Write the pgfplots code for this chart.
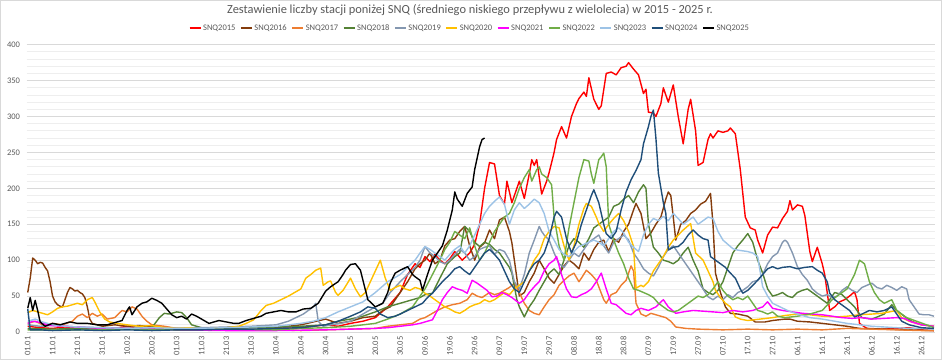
\documentclass[border=0pt]{standalone}
\usepackage{pgfplots}
\pgfplotsset{compat=1.18}
\usepackage{fontspec}
\setmainfont{Carlito}
\definecolor{c15}{HTML}{FF0000}
\definecolor{c16}{HTML}{843C0C}
\definecolor{c17}{HTML}{ED7D31}
\definecolor{c18}{HTML}{548235}
\definecolor{c19}{HTML}{8497B0}
\definecolor{c20}{HTML}{FFC000}
\definecolor{c21}{HTML}{FF00FF}
\definecolor{c22}{HTML}{70AD47}
\definecolor{c23}{HTML}{9DC3E6}
\definecolor{c24}{HTML}{1F4E79}
\definecolor{c25}{HTML}{000000}
\definecolor{txt}{HTML}{595959}
\definecolor{gmaj}{HTML}{D9D9D9}
\definecolor{gmin}{HTML}{EEEEEE}
\begin{document}
\begin{tikzpicture}
\useasboundingbox (0,0) rectangle (942pt,360pt);
\draw[gmaj, line width=1pt] (0.5pt,0.5pt) rectangle (941.5pt,359.5pt);
\node[font=\fontsize{12.4}{14}\selectfont, text=txt] at (470pt,349.5pt) {Zestawienie liczby stacji poniżej SNQ (średniego niskiego przepływu z wielolecia) w 2015 - 2025 r.};
\begin{axis}[
  at={(26.5pt,28pt)}, anchor=south west,
  scale only axis, width=908.7pt, height=287.3pt,
  xmin=-0.5, xmax=365.5, ymin=0, ymax=400,
  axis line style={draw=none},
  major tick length=0pt, minor tick length=0pt,
  ytick={0,50,...,400}, minor y tick num=4,
  ymajorgrids, yminorgrids,
  major grid style={gmaj, line width=0.8pt},
  minor grid style={gmin, line width=0.8pt},
  xtick={0,10,...,360},
  xticklabels={01.01,11.01,21.01,31.01,10.02,20.02,01.03,11.03,21.03,31.03,10.04,20.04,30.04,10.05,20.05,30.05,09.06,19.06,29.06,09.07,19.07,29.07,08.08,18.08,28.08,07.09,17.09,27.09,07.10,17.10,27.10,06.11,16.11,26.11,06.12,16.12,26.12},
  x tick label style={rotate=90, anchor=east, font=\fontsize{8.5}{9}\selectfont, text=txt, xshift=0pt},
  y tick label style={font=\fontsize{8.5}{9}\selectfont, text=txt},
  /pgf/number format/assume math mode=true,
  xticklabel shift=1pt, yticklabel shift=3pt,
  every axis plot/.append style={line width=1.4pt, mark=none, line join=round},
  legend columns=11,
  legend image code/.code={\draw[#1,line width=2pt] (0pt,0pt) -- (11pt,0pt);},
  legend style={at={(axis description cs:0.4875,1)}, anchor=center, yshift=16.7pt, draw=none, fill=none,
    font=\fontsize{8.5}{9}\selectfont, text=txt, inner xsep=0pt, nodes={inner xsep=1.5pt},
    /tikz/every even column/.append style={column sep=3pt}},
]
\addplot[c15] coordinates {(0,8)(5,6)(10,5)(15,7)(20,5)(25,4)(30,6)(35,5)(40,8)(45,5)(50,4)(55,6)(60,3)(70,3)(80,4)(90,3)(100,5)(110,6)(115,8)(120,10)(125,8)(130,12)(135,15)(140,20)(145,35)(150,55)(153,80)(156,95)(158,90)(160,105)(162,98)(164,108)(166,100)(168,95)(170,102)(172,112)(175,100)(178,110)(180,122)(182,150)(184,200)(186,236)(188,234)(190,190)(192,178)(193,210)(195,180)(197,200)(198,210)(200,186)(202,220)(203,240)(204,232)(205,240)(207,192)(209,210)(210,222)(212,250)(213,268)(215,286)(217,270)(219,300)(221,318)(222,325)(224,334)(225,328)(226,354)(228,324)(230,310)(231,315)(233,360)(235,362)(237,358)(239,368)(241,370)(242,375)(244,366)(246,358)(248,332)(249,338)(250,306)(252,305)(253,300)(255,318)(256,340)(258,320)(260,344)(262,300)(264,262)(266,310)(267,324)(269,280)(270,232)(272,236)(274,268)(275,276)(276,270)(278,280)(280,278)(282,280)(283,284)(285,276)(287,226)(289,160)(291,145)(293,142)(294,128)(296,110)(298,135)(300,146)(302,145)(304,158)(306,168)(307,183)(308,170)(310,177)(312,175)(313,162)(315,112)(316,98)(318,118)(320,95)(321,80)(323,30)(325,35)(327,42)(329,45)(331,50)(333,56)(334,45)(335,12)(338,5)(345,4)(350,5)(355,6)(360,3)(365,2)};
\addlegendentry{SNQ2015}
\addplot[c16] coordinates {(0,55)(1,75)(2,103)(3,100)(4,95)(5,97)(6,96)(7,90)(8,85)(9,70)(10,50)(11,42)(12,38)(13,36)(14,35)(15,45)(16,55)(17,62)(18,60)(19,57)(20,58)(21,55)(22,53)(23,48)(24,35)(25,18)(26,12)(28,10)(30,8)(35,10)(40,8)(45,9)(50,7)(55,6)(60,5)(70,6)(80,5)(90,7)(100,6)(105,8)(110,10)(115,14)(120,18)(125,12)(130,15)(135,20)(140,22)(143,30)(146,35)(150,55)(153,70)(156,88)(158,95)(160,100)(162,110)(164,95)(166,100)(168,120)(170,128)(172,130)(174,140)(176,147)(178,120)(180,100)(182,118)(184,124)(186,142)(188,130)(190,156)(192,160)(194,140)(195,124)(196,100)(198,50)(200,55)(202,70)(204,82)(206,100)(208,88)(210,75)(212,68)(214,80)(216,92)(218,100)(220,95)(222,88)(224,110)(226,100)(228,115)(230,125)(232,128)(234,112)(236,130)(238,125)(240,140)(242,150)(244,170)(245,179)(247,165)(249,130)(251,138)(253,150)(255,160)(257,185)(258,195)(259,190)(260,160)(261,128)(263,150)(265,155)(267,165)(269,170)(271,178)(273,182)(275,193)(276,150)(277,82)(279,55)(281,35)(283,26)(286,25)(290,22)(293,14)(297,14)(300,16)(305,18)(307,18)(310,15)(315,14)(320,12)(325,10)(330,8)(335,5)(345,4)(355,3)(365,2)};
\addlegendentry{SNQ2016}
\addplot[c17] coordinates {(0,12)(3,15)(6,10)(10,12)(14,10)(18,15)(20,22)(22,25)(24,20)(26,26)(28,22)(30,25)(32,18)(35,20)(38,30)(40,28)(42,35)(44,32)(46,22)(48,15)(50,10)(55,8)(60,5)(70,4)(80,3)(90,3)(100,3)(110,2)(120,3)(130,4)(140,5)(145,8)(150,10)(155,12)(158,18)(160,20)(163,26)(165,30)(168,35)(171,38)(174,40)(177,45)(179,54)(181,50)(183,48)(186,55)(188,52)(190,54)(192,58)(194,62)(196,68)(198,55)(200,40)(202,30)(204,26)(206,24)(208,35)(210,45)(212,52)(214,65)(216,72)(218,78)(220,82)(222,70)(223,75)(225,86)(227,80)(229,72)(230,63)(232,45)(233,40)(235,52)(237,55)(239,65)(241,72)(243,92)(244,85)(245,40)(247,25)(249,22)(251,26)(253,24)(255,22)(257,20)(259,15)(261,7)(265,5)(270,4)(280,3)(290,4)(300,3)(310,4)(320,3)(330,5)(340,4)(350,3)(360,2)(365,2)};
\addlegendentry{SNQ2017}
\addplot[c18] coordinates {(0,5)(10,4)(20,5)(30,6)(40,5)(50,6)(53,20)(55,26)(57,25)(60,28)(62,27)(64,20)(66,10)(70,6)(80,5)(90,6)(100,7)(110,8)(120,10)(125,15)(130,18)(135,22)(140,28)(145,35)(150,40)(155,45)(158,48)(160,52)(163,54)(166,75)(169,95)(172,105)(174,110)(176,147)(178,140)(180,125)(182,119)(184,125)(186,122)(188,115)(190,110)(192,100)(194,90)(195,82)(197,45)(198,35)(200,21)(202,35)(204,45)(206,58)(208,70)(210,82)(212,88)(214,80)(216,100)(218,120)(220,130)(222,125)(224,118)(226,130)(228,145)(230,150)(232,155)(234,160)(236,175)(238,178)(240,185)(242,190)(244,180)(246,195)(248,205)(249,200)(250,150)(252,118)(254,110)(256,100)(258,98)(260,95)(262,100)(264,110)(266,118)(268,100)(270,85)(272,60)(274,55)(276,52)(278,58)(280,70)(282,90)(284,110)(286,120)(288,128)(290,137)(292,125)(294,100)(296,82)(298,60)(300,50)(302,52)(304,55)(306,50)(308,48)(310,55)(312,58)(314,60)(316,55)(318,50)(320,45)(322,40)(325,55)(328,52)(330,45)(333,35)(336,20)(340,18)(345,25)(348,38)(350,30)(353,22)(356,15)(360,10)(365,8)};
\addlegendentry{SNQ2018}
\addplot[c19] coordinates {(0,10)(5,8)(10,9)(20,7)(30,6)(40,5)(50,6)(60,5)(70,6)(80,7)(90,8)(100,10)(105,15)(108,20)(111,25)(113,30)(115,35)(116,40)(117,15)(119,8)(122,10)(126,12)(130,15)(135,25)(140,35)(143,40)(146,55)(150,70)(153,80)(156,90)(158,100)(160,119)(162,110)(164,105)(166,98)(168,95)(170,100)(172,108)(174,115)(176,110)(178,100)(180,105)(182,115)(184,118)(186,120)(188,108)(190,115)(192,112)(194,100)(196,70)(198,60)(200,80)(202,110)(204,128)(206,147)(207,140)(208,135)(210,128)(212,110)(214,95)(216,90)(218,100)(220,110)(222,105)(224,115)(226,125)(228,130)(230,135)(232,120)(234,110)(236,125)(238,130)(240,135)(242,128)(244,110)(246,100)(248,88)(250,82)(252,78)(254,90)(256,105)(258,115)(260,120)(262,110)(264,100)(266,90)(268,80)(270,70)(272,60)(274,49)(276,45)(278,50)(280,45)(282,52)(284,48)(286,55)(288,58)(290,63)(292,70)(294,72)(296,80)(298,95)(300,105)(302,110)(304,125)(305,128)(306,125)(308,110)(310,91)(312,80)(314,72)(316,60)(318,54)(320,50)(322,52)(324,48)(326,50)(328,58)(330,63)(332,58)(334,55)(336,62)(338,65)(340,68)(342,62)(344,60)(346,65)(348,62)(350,58)(352,63)(354,60)(355,45)(357,35)(359,25)(361,24)(363,24)(365,22)};
\addlegendentry{SNQ2019}
\addplot[c20] coordinates {(0,27)(2,30)(4,28)(6,26)(8,24)(10,28)(12,33)(14,35)(16,36)(18,38)(20,40)(22,38)(24,45)(26,48)(27,42)(29,28)(31,18)(33,14)(36,12)(40,10)(45,8)(50,9)(55,6)(60,5)(65,6)(70,4)(75,5)(80,6)(85,8)(88,12)(91,17)(94,30)(96,37)(99,40)(102,45)(105,50)(107,54)(110,60)(112,75)(114,80)(116,86)(118,89)(119,65)(121,70)(122,71)(124,55)(125,51)(127,58)(130,75)(132,60)(134,49)(136,55)(138,70)(140,85)(142,100)(144,75)(146,58)(148,62)(150,65)(152,60)(154,58)(156,62)(158,60)(160,54)(162,50)(164,45)(166,40)(168,35)(170,32)(172,28)(174,26)(176,30)(178,35)(180,38)(182,40)(184,45)(186,42)(188,45)(190,50)(192,55)(194,52)(196,60)(198,65)(200,70)(202,85)(204,100)(206,110)(208,130)(210,140)(212,147)(214,145)(216,120)(218,100)(220,120)(222,150)(224,172)(225,179)(227,175)(229,160)(230,151)(232,140)(234,150)(236,158)(238,165)(240,155)(242,140)(244,119)(245,61)(247,65)(248,63)(250,70)(252,85)(254,95)(256,105)(258,118)(260,128)(262,135)(264,142)(266,148)(267,151)(269,110)(272,100)(274,85)(276,70)(277,58)(279,48)(281,40)(283,35)(285,21)(287,18)(290,16)(295,18)(300,20)(305,23)(310,25)(315,24)(320,22)(326,21)(330,22)(335,24)(340,25)(344,26)(347,28)(350,30)(352,20)(355,15)(360,10)(365,8)};
\addlegendentry{SNQ2020}
\addplot[c21] coordinates {(0,12)(2,15)(4,14)(6,12)(8,10)(10,9)(15,8)(20,7)(25,6)(30,5)(40,5)(50,4)(60,3)(80,2)(100,2)(120,3)(130,4)(140,5)(145,6)(150,8)(155,10)(158,12)(161,15)(163,17)(165,30)(167,45)(169,55)(171,63)(173,60)(175,58)(177,54)(179,72)(181,68)(183,63)(185,58)(187,49)(189,50)(191,55)(193,52)(195,48)(198,40)(200,45)(202,55)(204,63)(206,70)(208,85)(210,95)(212,100)(213,105)(215,80)(217,60)(219,49)(221,48)(223,52)(225,55)(227,60)(229,70)(231,82)(233,60)(235,40)(237,38)(239,32)(241,26)(243,24)(245,30)(247,33)(250,30)(253,35)(256,45)(258,35)(261,26)(264,28)(268,30)(272,29)(276,28)(280,27)(284,30)(288,28)(292,30)(296,35)(298,42)(300,33)(304,30)(308,28)(312,26)(316,25)(320,24)(324,22)(328,20)(332,19)(336,20)(340,18)(345,19)(350,20)(353,19)(356,14)(360,10)(365,8)};
\addlegendentry{SNQ2021}
\addplot[c22] coordinates {(0,3)(20,3)(40,4)(60,3)(80,4)(100,3)(110,5)(120,6)(130,8)(140,12)(145,18)(150,25)(155,35)(160,60)(163,80)(166,100)(168,115)(170,125)(172,140)(174,135)(176,130)(178,145)(180,120)(182,100)(184,110)(186,125)(188,140)(190,150)(192,160)(194,165)(196,180)(198,200)(200,215)(202,226)(203,210)(205,226)(206,230)(207,220)(209,215)(211,205)(212,160)(214,120)(216,100)(218,145)(220,180)(222,215)(224,240)(226,238)(227,220)(228,207)(230,240)(231,244)(232,249)(233,230)(234,150)(236,128)(238,110)(240,95)(242,75)(244,60)(246,58)(248,55)(250,52)(252,48)(254,40)(256,35)(258,30)(260,28)(262,30)(264,35)(266,40)(268,45)(270,50)(272,48)(274,52)(276,60)(278,70)(280,58)(282,50)(284,45)(286,48)(288,45)(290,50)(292,40)(294,30)(296,28)(298,25)(300,28)(302,22)(305,20)(310,22)(315,25)(320,30)(324,45)(326,50)(330,60)(333,80)(335,100)(337,95)(339,70)(341,55)(343,45)(345,40)(348,45)(350,30)(354,20)(358,15)(362,10)(365,6)};
\addlegendentry{SNQ2022}
\addplot[c23] coordinates {(0,15)(3,18)(6,14)(10,10)(15,8)(20,7)(30,6)(40,5)(50,6)(60,5)(70,5)(80,6)(90,7)(100,8)(110,12)(115,15)(120,20)(125,28)(130,35)(135,42)(140,55)(145,70)(150,80)(153,90)(156,100)(158,110)(160,119)(162,115)(164,110)(166,105)(168,100)(170,108)(172,115)(174,120)(176,110)(178,120)(180,135)(182,150)(184,165)(186,175)(188,182)(190,188)(192,178)(194,150)(196,170)(198,180)(200,172)(202,178)(204,185)(206,180)(208,165)(210,140)(212,128)(214,115)(216,108)(218,105)(220,112)(222,119)(224,122)(226,125)(228,128)(230,125)(232,120)(234,130)(236,140)(238,145)(240,138)(242,125)(244,118)(246,112)(248,135)(250,150)(252,158)(254,155)(256,161)(258,155)(260,165)(262,158)(264,150)(266,155)(268,160)(270,150)(272,155)(274,160)(276,158)(278,140)(280,128)(282,122)(284,116)(286,114)(288,113)(290,112)(292,110)(294,105)(296,63)(298,50)(300,40)(303,35)(306,30)(310,25)(315,20)(320,18)(325,15)(330,12)(335,10)(340,8)(345,7)(350,6)(355,5)(360,5)(365,4)};
\addlegendentry{SNQ2023}
\addplot[c24] coordinates {(0,32)(1,3)(5,3)(10,2)(20,3)(30,2)(40,3)(50,2)(60,3)(70,3)(80,4)(90,4)(100,5)(110,6)(115,8)(120,10)(125,15)(130,22)(134,28)(137,35)(140,33)(142,25)(145,20)(148,22)(150,25)(153,30)(156,35)(159,40)(161,48)(163,54)(165,62)(167,70)(170,80)(172,88)(174,91)(176,85)(178,80)(180,90)(182,100)(184,110)(186,115)(188,108)(190,100)(192,85)(194,70)(196,60)(198,55)(200,70)(202,85)(204,95)(206,100)(208,110)(210,130)(212,160)(213,168)(215,160)(217,130)(219,110)(221,125)(223,150)(225,170)(227,190)(228,198)(230,180)(232,150)(233,137)(235,130)(237,140)(239,170)(241,195)(243,212)(245,225)(247,240)(248,262)(250,286)(251,300)(252,309)(253,270)(254,221)(256,180)(257,165)(258,114)(260,118)(262,119)(264,125)(266,135)(268,142)(270,135)(272,130)(274,128)(275,105)(277,100)(279,95)(281,90)(283,82)(285,75)(287,60)(288,54)(290,58)(292,65)(294,72)(296,80)(298,88)(300,91)(302,88)(304,90)(307,91)(310,88)(313,90)(316,91)(318,86)(320,82)(322,70)(323,54)(325,45)(327,40)(329,35)(331,30)(333,21)(336,25)(339,30)(342,28)(345,30)(348,35)(350,25)(352,15)(355,10)(360,6)(365,5)};
\addlegendentry{SNQ2024}
\addplot[c25] coordinates {(0,33)(1,48)(2,30)(3,44)(4,30)(5,14)(7,8)(10,12)(13,10)(17,14)(20,12)(24,12)(28,10)(32,10)(36,14)(38,16)(40,30)(41,35)(42,24)(44,35)(46,40)(48,42)(50,47)(52,44)(54,40)(56,32)(58,24)(60,20)(62,22)(64,18)(66,25)(68,22)(70,18)(73,12)(75,14)(77,16)(80,14)(83,12)(85,12)(88,16)(91,19)(94,22)(96,26)(99,28)(102,30)(105,28)(108,28)(111,32)(114,33)(117,40)(120,57)(122,63)(125,70)(127,80)(128,86)(130,94)(132,95)(134,86)(135,72)(137,45)(140,35)(143,40)(145,55)(146,68)(148,82)(150,86)(153,91)(155,80)(156,77)(158,72)(159,58)(161,80)(163,100)(165,110)(167,120)(169,142)(171,170)(172,195)(173,185)(175,175)(177,193)(179,202)(180,226)(182,258)(183,268)(184,270)};
\addlegendentry{SNQ2025}
\end{axis}
\end{tikzpicture}
\end{document}
